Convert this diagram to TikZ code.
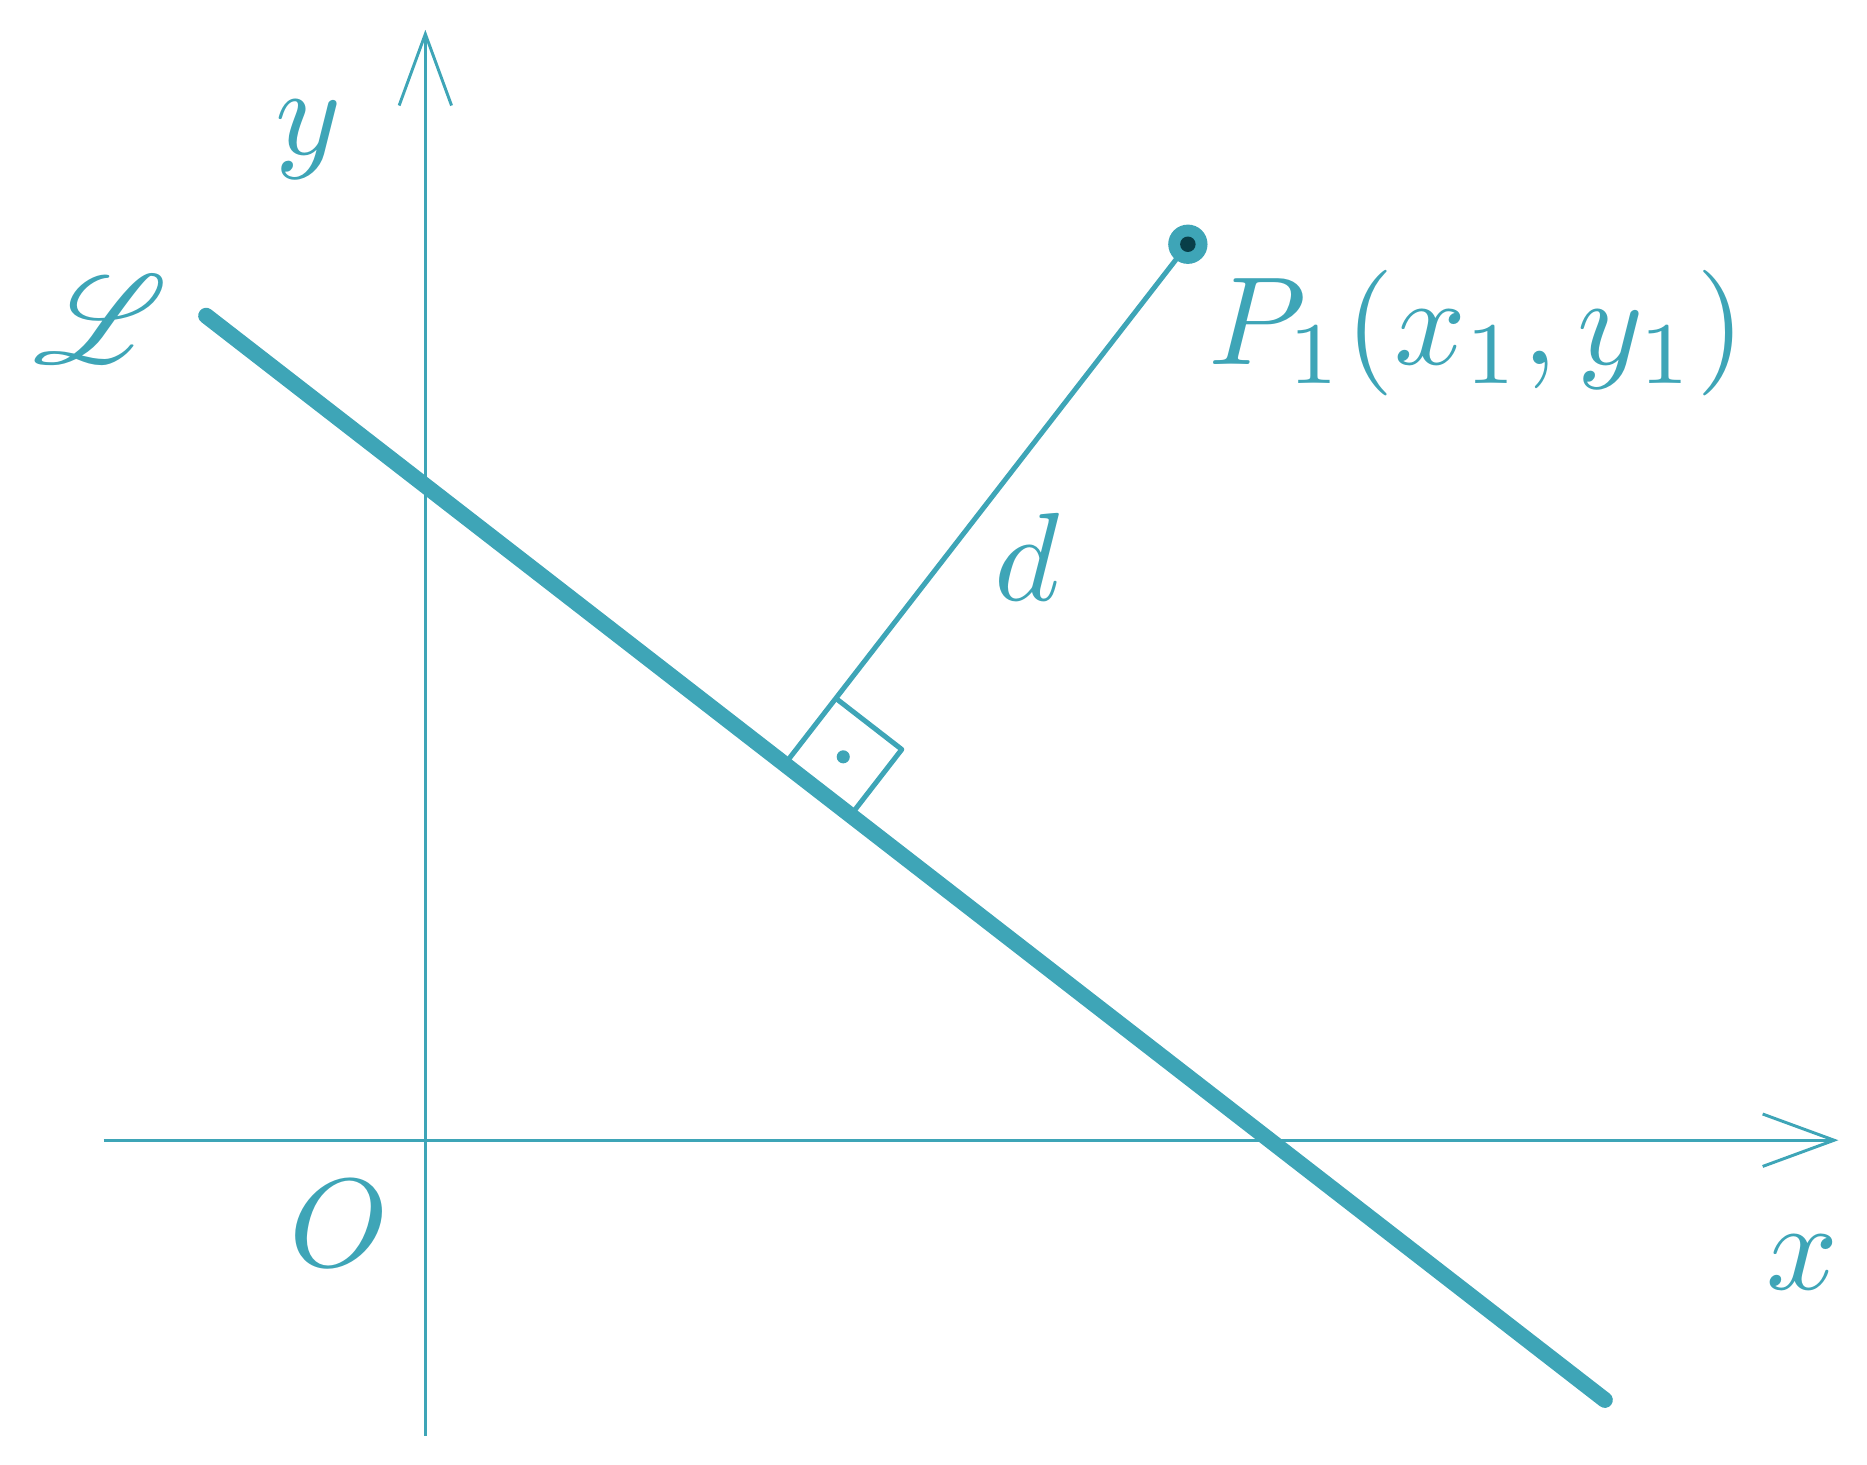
\documentclass[tikz,border=0pt]{standalone}
\usepackage{amsmath}
\usepackage{mathrsfs}
\usepackage{tikz}
\usetikzlibrary{calc,arrows.meta}
\definecolor{lineTeal}{RGB}{62,165,183}
\definecolor{dotDark}{RGB}{8,62,72}

\begin{document}
\begin{tikzpicture}
    \newcommand{\marksize}{7mm}
    \tikzstyle{axis}    = [line width=0.7pt,draw=lineTeal,-{Straight Barb[length=6mm,width=4.4mm]}]
    \tikzstyle{lline}   = [line width=3.8pt,draw=lineTeal,line cap=round]
    \tikzstyle{dline}   = [line width=1.2pt,draw=lineTeal]
    \tikzstyle{mathlbl} = [text=lineTeal,inner sep=0pt,scale=3]

    \useasboundingbox (-3.57,-2.72) rectangle (12.10,9.57);

    \coordinate (xStart) at (-2.70,0);
    \coordinate (xEnd)   at (11.86,0);
    \coordinate (yStart) at (0,-2.48);
    \coordinate (yEnd)   at (0,9.32);
    \draw[axis] (xStart)--(xEnd);
    \draw[axis] (yStart)--(yEnd);

    \coordinate (lStart) at (-1.84,6.92);
    \coordinate (lEnd)   at (9.90,-2.18);
    \draw[lline] (lStart)--(lEnd);

    \coordinate (nP)    at (6.40,7.52);
    \coordinate (nFoot) at ($(lStart)!(nP)!(lEnd)$);
    \draw[dline] (nFoot)--(nP);

    % right angle mark
    \coordinate (mA) at ($(nFoot)!\marksize!(nP)$);
    \coordinate (mB) at ($(nFoot)!\marksize!(lEnd)$);
    \draw[dline,line join=round] (mA)--($(mA)+(mB)-(nFoot)$)--(mB);
    \fill[lineTeal] ($(mA)!0.5!(mB)$) circle (0.055);

    \fill[lineTeal] (nP) circle (0.165);
    \fill[dotDark]  (nP) circle (0.065);

    \node[mathlbl] (lblY) at (-0.98,8.40) {$y$};
    \node[mathlbl] (lblX) at (11.56,-1.03) {$x$};
    \node[mathlbl] (lblO) at (-0.72,-0.70) {$O$};
    \node[mathlbl] (lblL) at (-2.73,6.89) {$\mathscr{L}$};
    \node[mathlbl] (lblD) at (5.05,4.90) {$d$};
    \node[mathlbl,anchor=base west] (lblP) at (6.55,6.51) {$P_1(x_1,y_1)$};
\end{tikzpicture}
\end{document}
